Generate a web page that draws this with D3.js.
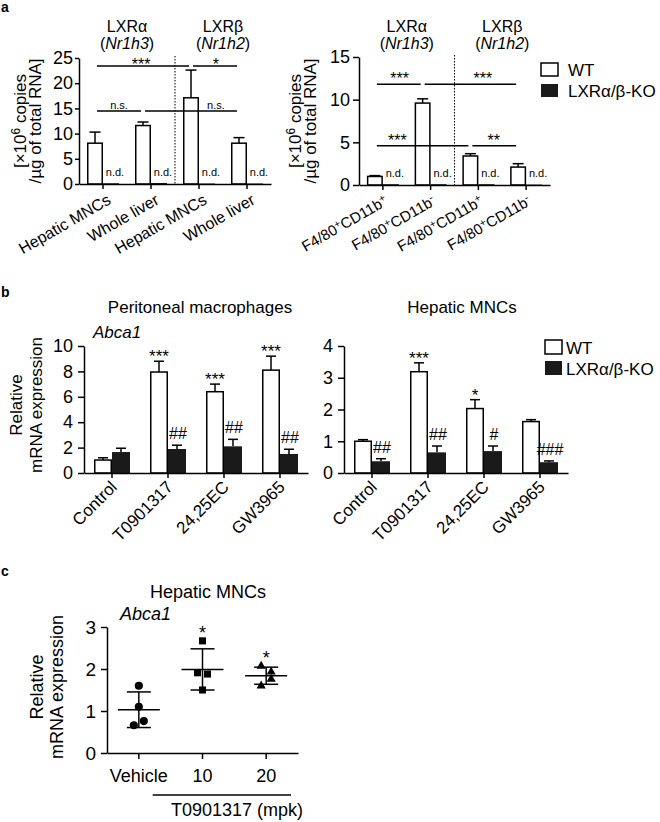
<!DOCTYPE html>
<html>
<head>
<meta charset="utf-8">
<script src="https://cdn.jsdelivr.net/npm/d3@7"></script>
<style>
body { margin: 0; background: #fff; }
text { font-family: "Liberation Sans", Arial, sans-serif; fill: #000; }
</style>
</head>
<body>
<script>
// ---- data ----
var legendLabels = ["WT", "LXRα/β-KO"];

// panel a, left: copies in liver
var aLeftCats = ["Hepatic MNCs", "Whole liver", "Hepatic MNCs", "Whole liver"];
var aLeftWT = [8.1, 11.6, 17.1, 8.1];
var aLeftWTErr = [2.2, 0.7, 5.5, 1.1];
var aLeftKO = [0.15, 0.2, 0.1, 0.1];
var aLeftTicks = [0, 5, 10, 15, 20, 25];
var aLeftSig = [
	{from: 0, to: 2, level: 23.4, at: 0.96, mark: "***"},
	{from: 2, to: 3, level: 23.4, at: 2.52, mark: "*"},
	{from: 0, to: 1, level: 14.5, at: 0.5, mark: "n.s."},
	{from: 1, to: 3, level: 14.5, at: 2.52, mark: "n.s."}
];

// panel a, right: sorted cells
var aRightCats = ["F4/80^+CD11b^+", "F4/80^+CD11b^-", "F4/80^+CD11b^+", "F4/80^+CD11b^-"];
var aRightWT = [1.0, 9.6, 3.4, 2.1];
var aRightWTErr = [0.1, 0.5, 0.27, 0.4];
var aRightKO = [0.1, 0.1, 0.1, 0.05];
var aRightTicks = [0, 5, 10, 15];
var aRightSig = [
	{from: 0, to: 1, level: 11.8, at: 0.52, mark: "***"},
	{from: 1, to: 3, level: 11.8, at: 2.26, mark: "***"},
	{from: 0, to: 2, level: 4.6, at: 0.47, mark: "***"},
	{from: 2, to: 3, level: 4.6, at: 2.49, mark: "**"}
];
var aGenes = [["LXRα", "Nr1h3"], ["LXRβ", "Nr1h2"]];

// panel b
var bCats = ["Control", "T0901317", "24,25EC", "GW3965"];
var bPeriWT = [1.02, 7.95, 6.4, 8.1];
var bPeriWTErr = [0.18, 0.85, 0.6, 1.1];
var bPeriKO = [1.65, 1.89, 2.1, 1.5];
var bPeriKOErr = [0.3, 0.3, 0.55, 0.37];
var bPeriWTMark = ["", "***", "***", "***"];
var bPeriKOMark = ["", "##", "##", "##"];
var bPeriTicks = [0, 2, 4, 6, 8, 10];

var bHepWT = [1.0, 3.19, 2.03, 1.62];
var bHepWTErr = [0.05, 0.28, 0.28, 0.06];
var bHepKO = [0.37, 0.65, 0.69, 0.34];
var bHepKOErr = [0.08, 0.2, 0.16, 0.04];
var bHepWTMark = ["", "***", "*", ""];
var bHepKOMark = ["##", "##", "#", "###"];
var bHepTicks = [0, 1, 2, 3, 4];

// panel c
var cCats = ["Vehicle", "10", "20"];
var cVehicle = [1.6, 1.1, 0.66, 0.76];
var c10 = [2.67, 1.91, 1.88, 1.5];
var c20 = [2.07, 1.93, 1.6, 1.76];
var cMarks = ["", "*", "*"];
var cTicks = [0, 1, 2, 3];

// ---- drawing ----
var FONT = '"Liberation Sans", Arial, sans-serif';
var intFmt = d3.format("d");
var svg = d3.select("body").append("svg")
	.attr("width", 660)
	.attr("height", 822);

// text with ^x as superscript
var richText = function(sel, str, shift){
	var segs = [];
	for(var i = 0; i < str.length; i++){
		if(str[i] === "^" && i + 1 < str.length){
			segs.push({t: str[i+1], sup: true});
			i++;
		} else {
			if(segs.length && !segs[segs.length-1].sup) segs[segs.length-1].t += str[i];
			else segs.push({t: str[i], sup: false});
		}
	}
	var prevSup = false;
	segs.forEach(function(s){
		var ts = sel.append("tspan").text(s.t);
		if(s.sup){
			ts.attr("dy", prevSup ? 0 : -shift).style("font-size", "70%");
		} else if(prevSup){
			ts.attr("dy", shift);
		}
		prevSup = s.sup;
	});
};

var styleAxis = function(ax, fontSize){
	ax.attr("font-family", FONT).attr("font-size", fontSize);
	ax.selectAll("path, line").attr("stroke", "#000").attr("stroke-width", 1.5);
	ax.selectAll("text").attr("fill", "#000");
};

var barPanel = function(p){
	var g = svg.append("g");
	var n = p.cats.length;
	var x = d3.scaleBand().domain(d3.range(n)).range([p.left, p.right]);
	var y = d3.scaleLinear().domain([0, p.max]).range([p.bottom, p.top]);
	var cx = function(i){ return x(i) + x.bandwidth() / 2; };
	var wtC = function(i){ return cx(i) - p.barW / 2; };
	var koC = function(i){ return cx(i) + p.barW / 2; };

	// error bars (upper whisker only)
	var errs = [];
	p.wt.forEach(function(v, i){ if(p.wtErr && p.wtErr[i]) errs.push({c: wtC(i), v: v, e: p.wtErr[i]}); });
	p.ko.forEach(function(v, i){ if(p.koErr && p.koErr[i]) errs.push({c: koC(i), v: v, e: p.koErr[i]}); });
	var eg = g.selectAll("g.err").data(errs).enter().append("g");
	eg.append("line")
		.attr("x1", function(d){ return d.c; }).attr("x2", function(d){ return d.c; })
		.attr("y1", function(d){ return y(d.v); }).attr("y2", function(d){ return y(d.v + d.e); })
		.attr("stroke", "#000").attr("stroke-width", 1.5);
	eg.append("line")
		.attr("x1", function(d){ return d.c - p.capW / 2; }).attr("x2", function(d){ return d.c + p.capW / 2; })
		.attr("y1", function(d){ return y(d.v + d.e); }).attr("y2", function(d){ return y(d.v + d.e); })
		.attr("stroke", "#000").attr("stroke-width", 1.5);

	g.selectAll("rect.wt").data(p.wt).enter().append("rect")
		.attr("x", function(d, i){ return cx(i) - p.barW + 0.75; })
		.attr("y", function(d){ return y(d); })
		.attr("width", p.barW - 1.5)
		.attr("height", function(d){ return p.bottom - y(d); })
		.attr("fill", "#fff").attr("stroke", "#000").attr("stroke-width", 1.5);
	g.selectAll("rect.ko").data(p.ko).enter().append("rect")
		.attr("x", function(d, i){ return cx(i); })
		.attr("y", function(d){ return y(d); })
		.attr("width", p.barW)
		.attr("height", function(d){ return p.bottom - y(d); })
		.attr("fill", "#1a1a1a");

	var yAx = g.append("g").attr("transform", "translate(" + p.left + ",0)")
		.call(d3.axisLeft(y).tickValues(p.ticks).tickFormat(intFmt)
			.tickSize(p.tickLen).tickSizeOuter(0).tickPadding(p.tickPad));
	styleAxis(yAx, p.tickFont);
	var xAx = g.append("g").attr("transform", "translate(0," + p.bottom + ")")
		.call(d3.axisBottom(x).tickSize(5).tickSizeOuter(0).tickFormat(""));
	styleAxis(xAx, p.tickFont);

	g.selectAll("text.xlab").data(p.cats).enter().append("text")
		.attr("transform", function(d, i){
			return "translate(" + (cx(i) + p.labDx) + "," + (p.bottom + p.labDy) + ") rotate(" + p.angle + ")";
		})
		.attr("text-anchor", "end")
		.attr("font-size", p.labFont)
		.each(function(d){ richText(d3.select(this), d, 5); });

	return {g: g, x: x, y: y, cx: cx, wtC: wtC, koC: koC};
};

var legend = function(x0, y0, gap, w, h, fontSize, pad){
	legendLabels.forEach(function(lab, i){
		svg.append("rect")
			.attr("x", x0).attr("y", y0 + i * gap)
			.attr("width", w).attr("height", h)
			.attr("fill", i === 0 ? "#fff" : "#1a1a1a")
			.attr("stroke", i === 0 ? "#000" : "none").attr("stroke-width", 1.5);
		svg.append("text")
			.attr("x", x0 + w + pad).attr("y", y0 + i * gap + h)
			.attr("font-size", fontSize)
			.text(lab);
	});
};

var panelLetter = function(t, x, y){
	svg.append("text").attr("x", x).attr("y", y)
		.attr("font-size", 14).attr("font-weight", "bold").text(t);
};

var yLabel = function(lines, x0, gap, yc, fontSize){
	lines.forEach(function(l, i){
		var t = svg.append("text")
			.attr("transform", "translate(" + (x0 + i * gap) + "," + yc + ") rotate(-90)")
			.attr("text-anchor", "middle").attr("font-size", fontSize);
		richText(t, l, 6);
	});
};

// ---------- panel a ----------
var sigLines = function(P, sig, textOff){
	var band = P.x.bandwidth();
	sig.forEach(function(s){
		var ly = P.y(s.level);
		P.g.append("line")
			.attr("x1", P.wtC(s.from) + 2).attr("x2", P.wtC(s.to) - 2)
			.attr("y1", ly).attr("y2", ly)
			.attr("stroke", "#000").attr("stroke-width", 1.5);
		var ns = s.mark === "n.s.";
		P.g.append("text")
			.attr("x", P.wtC(0) + s.at * band)
			.attr("y", ns ? ly - 2 : ly + textOff)
			.attr("text-anchor", "middle")
			.attr("font-size", ns ? 11 : 16)
			.text(s.mark);
	});
};

var aPanel = function(P, genes, koVals, bottom, top){
	// divider between alpha and beta
	var xd = P.x(2);
	P.g.append("line")
		.attr("x1", xd).attr("x2", xd).attr("y1", top - 2).attr("y2", bottom)
		.attr("stroke", "#000").attr("stroke-width", 1).attr("stroke-dasharray", "1.5,1.5");
	koVals.forEach(function(v, i){
		P.g.append("text").attr("x", P.koC(i) + 4).attr("y", bottom - 8)
			.attr("text-anchor", "middle").attr("font-size", 11).text("n.d.");
	});
	genes.forEach(function(gn, k){
		var gx = P.x(2 * k + 1);
		P.g.append("text").attr("x", gx).attr("y", 32)
			.attr("text-anchor", "middle").attr("font-size", 16).text(gn[0]);
		var t = P.g.append("text").attr("x", gx).attr("y", 49)
			.attr("text-anchor", "middle").attr("font-size", 16);
		t.append("tspan").text("(");
		t.append("tspan").attr("font-style", "italic").text(gn[1]);
		t.append("tspan").text(")");
	});
};

var aL = barPanel({
	cats: aLeftCats, wt: aLeftWT, wtErr: aLeftWTErr, ko: aLeftKO,
	left: 79, right: 271, bottom: 184, top: 58, max: 25, ticks: aLeftTicks,
	barW: 16, capW: 11, tickLen: 4, tickPad: 2, tickFont: 18,
	angle: -30, labDx: 9, labDy: 19, labFont: 16
});
aPanel(aL, aGenes, aLeftKO, 184, 58);
sigLines(aL, aLeftSig, 4);

var aR = barPanel({
	cats: aRightCats, wt: aRightWT, wtErr: aRightWTErr, ko: aRightKO,
	left: 359, right: 550, bottom: 185, top: 57, max: 15, ticks: aRightTicks,
	barW: 16, capW: 11, tickLen: 6, tickPad: 3, tickFont: 18,
	angle: -30, labDx: 6, labDy: 19, labFont: 15
});
aPanel(aR, aGenes, aRightKO, 185, 57);
sigLines(aR, aRightSig, 0);

yLabel(["[×10^6 copies", "/µg of total RNA]"], 26, 15, 121, 17);
yLabel(["[×10^6 copies", "/µg of total RNA]"], 301, 15, 121, 17);
legend(541, 63, 21, 17, 13, 17, 10);
panelLetter("a", 1, 12);

// ---------- panel b ----------
var bMarks = function(P, wt, wtErr, ko, koErr, wtM, koM){
	wtM.forEach(function(m, i){
		if(!m) return;
		P.g.append("text").attr("x", P.wtC(i)).attr("y", P.y(wt[i] + wtErr[i]) + 1)
			.attr("text-anchor", "middle").attr("font-size", 17).text(m);
	});
	koM.forEach(function(m, i){
		if(!m) return;
		P.g.append("text").attr("x", P.koC(i) + 1).attr("y", P.y(ko[i] + koErr[i]) - 6)
			.attr("text-anchor", "middle").attr("font-size", 16).text(m);
	});
};

var bL = barPanel({
	cats: bCats, wt: bPeriWT, wtErr: bPeriWTErr, ko: bPeriKO, koErr: bPeriKOErr,
	left: 84, right: 308, bottom: 473, top: 346, max: 10, ticks: bPeriTicks,
	barW: 18, capW: 10, tickLen: 6, tickPad: 5, tickFont: 18,
	angle: -45, labDx: 6, labDy: 15, labFont: 17
});
bMarks(bL, bPeriWT, bPeriWTErr, bPeriKO, bPeriKOErr, bPeriWTMark, bPeriKOMark);

var bR = barPanel({
	cats: bCats, wt: bHepWT, wtErr: bHepWTErr, ko: bHepKO, koErr: bHepKOErr,
	left: 344, right: 568, bottom: 473, top: 346, max: 4, ticks: bHepTicks,
	barW: 18, capW: 10, tickLen: 6, tickPad: 5, tickFont: 18,
	angle: -45, labDx: 6, labDy: 15, labFont: 17
});
bMarks(bR, bHepWT, bHepWTErr, bHepKO, bHepKOErr, bHepWTMark, bHepKOMark);

svg.append("text").attr("x", 200).attr("y", 313).attr("text-anchor", "middle")
	.attr("font-size", 17).text("Peritoneal macrophages");
svg.append("text").attr("x", 462).attr("y", 313).attr("text-anchor", "middle")
	.attr("font-size", 17).text("Hepatic MNCs");
svg.append("text").attr("x", 93).attr("y", 338).attr("font-size", 17)
	.attr("font-style", "italic").text("Abca1");
yLabel(["Relative", "mRNA expression"], 22, 20, 405, 17);
legend(545, 340, 21, 17, 14, 17, 4);
panelLetter("b", 1, 297);

// ---------- panel c ----------
var cGroups = [cVehicle, c10, c20];
var cShapes = [d3.symbolCircle, d3.symbolSquare, d3.symbolTriangle];
var cSizes = [52, 50, 36];
var cx3 = d3.scaleBand().domain(cCats).range([107, 298]);
var cy = d3.scaleLinear().domain([0, 3]).range([753, 627]);
var gc = svg.append("g");

// spread neighbouring points with close values
var spread = function(vals){
	var off = vals.map(function(){ return 0; });
	for(var i = 0; i < vals.length - 1; i++){
		if(Math.abs(vals[i] - vals[i+1]) < 0.2){
			off[i] = -5; off[i+1] = 5; i++;
		}
	}
	return off;
};

cGroups.forEach(function(vals, k){
	var c = cx3(cCats[k]) + cx3.bandwidth() / 2;
	var m = d3.mean(vals), sd = d3.deviation(vals);
	var off = spread(vals);
	gc.selectAll("path.pt" + k).data(vals).enter().append("path")
		.attr("d", d3.symbol().type(cShapes[k]).size(cSizes[k]))
		.attr("transform", function(d, i){ return "translate(" + (c + off[i]) + "," + cy(d) + ")"; })
		.attr("fill", "#000");
	gc.append("line").attr("x1", c - 21).attr("x2", c + 21).attr("y1", cy(m)).attr("y2", cy(m))
		.attr("stroke", "#000").attr("stroke-width", 1.5);
	gc.append("line").attr("x1", c).attr("x2", c).attr("y1", cy(m - sd)).attr("y2", cy(m + sd))
		.attr("stroke", "#000").attr("stroke-width", 1.5);
	[m - sd, m + sd].forEach(function(v){
		gc.append("line").attr("x1", c - 12).attr("x2", c + 12).attr("y1", cy(v)).attr("y2", cy(v))
			.attr("stroke", "#000").attr("stroke-width", 1.5);
	});
	if(cMarks[k]){
		gc.append("text").attr("x", c).attr("y", cy(d3.max(vals)) - 2)
			.attr("text-anchor", "middle").attr("font-size", 18).text(cMarks[k]);
	}
});

var cyAx = gc.append("g").attr("transform", "translate(107,0)")
	.call(d3.axisLeft(cy).tickValues(cTicks).tickFormat(intFmt)
		.tickSize(6).tickSizeOuter(0).tickPadding(5));
styleAxis(cyAx, 19);
var cxAx = gc.append("g").attr("transform", "translate(0,753)")
	.call(d3.axisBottom(cx3).tickSize(6).tickSizeOuter(0).tickPadding(10));
styleAxis(cxAx, 18);

gc.append("line").attr("x1", cx3("10") - 18).attr("x2", cx3("20") + cx3.bandwidth() - 7)
	.attr("y1", 795).attr("y2", 795).attr("stroke", "#000").attr("stroke-width", 1.5);
gc.append("text").attr("x", 237).attr("y", 816).attr("text-anchor", "middle")
	.attr("font-size", 18).text("T0901317 (mpk)");
gc.append("text").attr("x", 208).attr("y", 598).attr("text-anchor", "middle")
	.attr("font-size", 18).text("Hepatic MNCs");
gc.append("text").attr("x", 120).attr("y", 620).attr("font-size", 18)
	.attr("font-style", "italic").text("Abca1");
yLabel(["Relative", "mRNA expression"], 43, 20, 687, 18);
panelLetter("c", 1, 576);
</script>
</body>
</html>
